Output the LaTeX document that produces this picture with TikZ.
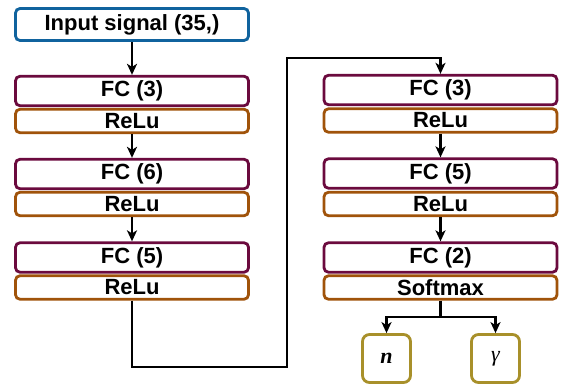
\documentclass[tikz,border=0pt]{standalone}
\usepackage{fontspec}
\setmainfont{Liberation Sans}
\newfontfamily\serifit{Liberation Serif}
\usetikzlibrary{arrows.meta}
\definecolor{cblue}{HTML}{10639E}
\definecolor{cmaroon}{HTML}{6B0A3E}
\definecolor{cbrown}{HTML}{A0530A}
\definecolor{cgold}{HTML}{A8902A}
\tikzset{
  base/.style={draw, line width=2.8pt, rounded corners=4.5pt, fill=white, inner sep=0pt,
    font=\fontsize{22}{24}\selectfont\bfseries, text=black},
  inbox/.style={base, draw=cblue, minimum width=233pt, minimum height=32pt},
  fcbox/.style={base, draw=cmaroon, minimum width=233pt, minimum height=29.5pt},
  actbox/.style={base, draw=cbrown, minimum width=233pt, minimum height=23.5pt},
  outbox/.style={base, draw=cgold, minimum width=48pt, minimum height=48pt, rounded corners=7pt,
    font=\fontsize{22}{24}\selectfont\serifit},
  conn/.style={line width=2.2pt, -{Stealth[length=11pt,width=10pt,inset=3pt]}},
  plain/.style={line width=2.2pt}
}
\begin{document}
\begin{tikzpicture}[x=1pt,y=-1pt]
\useasboundingbox (0,0) rectangle (564,390);
% left column
\node[inbox] (in) at (132,24.5) {Input signal (35,)};
\node[fcbox] (l1) at (132,91) {FC (3)};
\node[actbox] (a1) at (132,121) {ReLu};
\node[fcbox] (l2) at (132,174) {FC (6)};
\node[actbox] (a2) at (132,204) {ReLu};
\node[fcbox] (l3) at (132,257.5) {FC (5)};
\node[actbox] (a3) at (132,287.5) {ReLu};
% right column
\node[fcbox] (r1) at (440.5,90) {FC (3)};
\node[actbox] (b1) at (440.5,120.5) {ReLu};
\node[fcbox] (r2) at (440.5,173.5) {FC (5)};
\node[actbox] (b2) at (440.5,204) {ReLu};
\node[fcbox] (r3) at (440.5,257.5) {FC (2)};
\node[actbox] (b3) at (440.5,287.5) {Softmax};
% outputs
\node[outbox] (on) at (386.5,358.5) {\bfseries\itshape n};
\node[outbox] (og) at (495.5,358.5) {\itshape γ};
% connectors
\draw[conn] (in) -- (l1);
\draw[conn] (a1) -- (l2);
\draw[conn] (a2) -- (l3);
\coordinate (c1) at (132,367);
\coordinate (c2) at (287,367);
\coordinate (c3) at (287,58);
\coordinate (c4) at (440.5,58);
\draw[conn] (a3.south) -- (c1) -- (c2) -- (c3) -- (c4) -- (r1.north);
\draw[conn] (b1) -- (r2);
\draw[conn] (b2) -- (r3);
\coordinate (s0) at (440.5,317);
\coordinate (sl) at (386.5,317);
\coordinate (sr) at (495.5,317);
\draw[plain] (b3.south) -- (s0);
\draw[conn] (s0) -- (sl) -- (on.north);
\draw[conn] (s0) -- (sr) -- (og.north);
\end{tikzpicture}
\end{document}
